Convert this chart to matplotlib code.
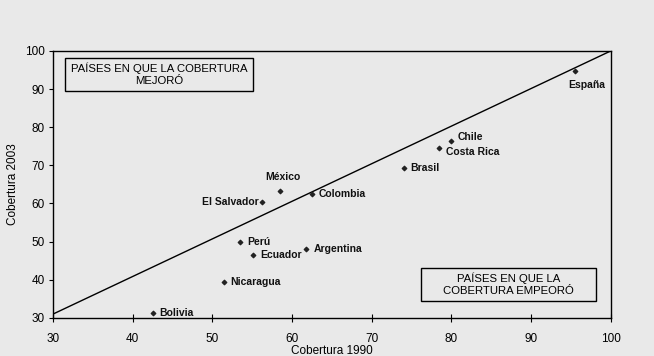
import matplotlib
matplotlib.use('Agg')
import matplotlib.pyplot as plt
from matplotlib.patches import Rectangle

plt.rcParams['font.family'] = ['Liberation Sans', 'DejaVu Sans']

# coverage 1990 vs 2003
countries = ['España', 'Chile', 'Costa Rica', 'Brasil', 'Colombia', 'México',
             'El Salvador', 'Perú', 'Ecuador', 'Argentina', 'Nicaragua', 'Bolivia']
cob_1990 = [95.5, 79.9, 78.4, 74.0, 62.5, 58.5, 56.2, 53.5, 55.1, 61.8, 51.4, 42.5]
cob_2003 = [94.8, 76.4, 74.5, 69.4, 62.5, 63.3, 60.3, 50.0, 46.5, 48.0, 39.4, 31.2]

# label offsets (points) and alignment per country
label_pos = {
    'España': (8.5, -10, 'center'),
    'Chile': (5, 3, 'left'),
    'Costa Rica': (5, -3, 'left'),
    'Brasil': (5, 0, 'left'),
    'Colombia': (5, 0, 'left'),
    'México': (2, 10, 'center'),
    'El Salvador': (-2, 0, 'right'),
    'Perú': (5, 0, 'left'),
    'Ecuador': (5, 0, 'left'),
    'Argentina': (5, 0, 'left'),
    'Nicaragua': (5, 0, 'left'),
    'Bolivia': (5, 0, 'left'),
}

diag_x = [30, 100]
diag_y = [31, 100]

bg = '#e9e9e9'
fig = plt.figure(figsize=(6.54, 3.56), dpi=100)
fig.patch.set_facecolor(bg)
ax = fig.add_axes([0.081, 0.107, 0.853, 0.75])
ax.set_facecolor(bg)

ax.plot(diag_x, diag_y, color='black', lw=1.0)
ax.scatter(cob_1990, cob_2003, marker='D', s=5, color='#222222', zorder=3)

for name, x, y in zip(countries, cob_1990, cob_2003):
    dx, dy, ha = label_pos[name]
    ax.annotate(name, (x, y), xytext=(dx, dy), textcoords='offset points',
                ha=ha, va='center', fontsize=7.5, fontweight='bold', color='#111111')

# annotation boxes (axes fraction)
ax.add_patch(Rectangle((0.0215, 0.850), 0.337, 0.124, transform=ax.transAxes,
                       fc=bg, ec='black', lw=1.0, zorder=4))
ax.text(0.19, 0.912, 'PAÍSES EN QUE LA COBERTURA\nMEJORÓ', transform=ax.transAxes,
        ha='center', va='center', fontsize=8.2, linespacing=1.3, zorder=5)
ax.add_patch(Rectangle((0.659, 0.064), 0.314, 0.123, transform=ax.transAxes,
                       fc=bg, ec='black', lw=1.0, zorder=4))
ax.text(0.816, 0.125, 'PAÍSES EN QUE LA\nCOBERTURA EMPEORÓ', transform=ax.transAxes,
        ha='center', va='center', fontsize=8.2, linespacing=1.3, zorder=5)

ax.set_xlim(30, 100)
ax.set_ylim(30, 100)
ax.set_xticks(range(30, 101, 10))
ax.set_yticks(range(30, 101, 10))
ax.tick_params(axis='x', direction='inout', length=6, pad=8, labelsize=8.5)
ax.tick_params(axis='y', direction='out', length=3, pad=3, labelsize=8.5)
for s in ax.spines.values():
    s.set_linewidth(1.0)

ax.set_xlabel('Cobertura 1990', fontsize=8.5, labelpad=0)
ax.set_ylabel('Cobertura 2003', fontsize=8.5, labelpad=4)

fig.savefig('out.png', dpi=100, facecolor=bg)
